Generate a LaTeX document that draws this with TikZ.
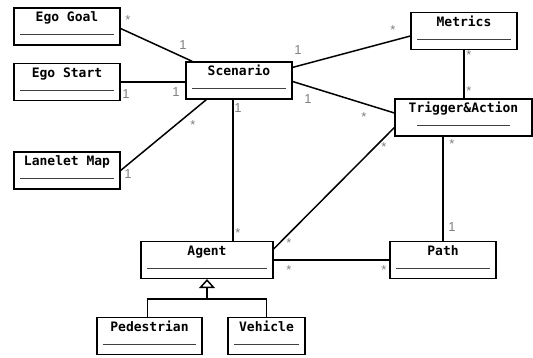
\documentclass[tikz,border=0pt]{standalone}
\usepackage{fontspec}
\setmonofont{DejaVu Sans Mono}
\setsansfont{Liberation Sans}
\usetikzlibrary{arrows.meta}
\tikzset{
    umlclass/.style={rectangle, draw, line width=1.2pt, inner sep=0pt, minimum height=37pt, text height=14pt, text depth=23pt, font=\ttfamily\bfseries\fontsize{13}{15}\selectfont,
        path picture={\draw[darkgray, line width=1pt] ([xshift=#1, yshift=10pt]path picture bounding box.south west) -- ([xshift=-#1, yshift=10pt]path picture bounding box.south east);}},
    umlclass/.default=6pt,
    assoc/.style={line width=1.5pt},
    mult/.style={anchor=base, inner sep=0pt, text=gray, font=\sffamily\fontsize{13}{15}\selectfont}
}
\begin{document}
\begin{tikzpicture}[x=1pt, y=-1pt]
    \useasboundingbox (0,0) rectangle (533,358);

    % classes
    \node (egogoal) [umlclass, minimum width=106pt] at (67,26.5) {Ego Goal};
    \node (egostart) [umlclass, minimum width=106pt] at (67,82) {Ego Start};
    \node (lanelet) [umlclass, minimum width=106pt] at (67,170.5) {Lanelet Map};
    \node (scenario) [umlclass, minimum width=106pt] at (239,80.5) {Scenario};
    \node (metrics) [umlclass, minimum width=106pt] at (464,31) {Metrics};
    \node (trigger) [umlclass=22pt, minimum width=137pt] at (463.5,117.5) {Trigger\&Action};
    \node (agent) [umlclass, minimum width=132pt] at (207,260) {Agent};
    \node (pathnode) [umlclass, minimum width=106pt] at (443,260) {Path};
    \node (pedestrian) [umlclass, minimum width=105pt] at (149.5,336) {Pedestrian};
    \node (vehicle) [umlclass, minimum width=77pt] at (266.5,336) {Vehicle};

    % associations
    \draw[assoc] ([yshift=-2pt]egogoal.east) -- ([xshift=7pt]scenario.north west);
    \draw[assoc] (egostart.east) -- (egostart.east -| scenario.west);
    \draw[assoc] (lanelet.east) -- ([xshift=21pt]scenario.south west);
    \draw[assoc] ([xshift=-6pt]scenario.south) -- ([xshift=-6pt]scenario.south |- agent.north);
    \draw[assoc] ([yshift=-6pt]scenario.north east) -- ([yshift=-5pt]metrics.west);
    \draw[assoc] ([yshift=-1pt]scenario.east) -- ([yshift=4.5pt]trigger.west);
    \draw[assoc] (metrics.south) -- (metrics.south |- trigger.north);
    \draw[assoc] ([yshift=-10pt]trigger.west) -- ([yshift=11pt]agent.east);
    \draw[assoc] (pathnode.north |- trigger.south) -- (pathnode.north);
    \draw[assoc] (agent.east) -- (pathnode.west);

    % generalisation
    \coordinate (split) at ([yshift=-20pt]agent.south);
    \draw[assoc, -{Triangle[open, length=9pt, width=16pt]}] (split) -- (agent.south);
    \draw[assoc] ([xshift=-2pt]pedestrian.north) |- (split) -| (vehicle.north);

    % multiplicities
    \node (m1) [mult] at (128,25) {*};
    \node (m2) [mult] at (183,50) {1};
    \node (m3) [mult] at (126,99) {1};
    \node (m4) [mult] at (176,97) {1};
    \node (m5) [mult] at (193,130) {*};
    \node (m6) [mult] at (128,179) {1};
    \node (m7) [mult] at (238,113) {1};
    \node (m8) [mult] at (238,238) {*};
    \node (m9) [mult] at (298,55) {1};
    \node (m10) [mult] at (393,35) {*};
    \node (m11) [mult] at (308,104) {1};
    \node (m12) [mult] at (364,122) {*};
    \node (m13) [mult] at (469,60) {*};
    \node (m14) [mult] at (469,96) {*};
    \node (m15) [mult] at (384,152) {*};
    \node (m16) [mult] at (289,248) {*};
    \node (m17) [mult] at (452,149) {*};
    \node (m18) [mult] at (452,232) {1};
    \node (m19) [mult] at (289,274) {*};
    \node (m20) [mult] at (384,274) {*};
\end{tikzpicture}
\end{document}
